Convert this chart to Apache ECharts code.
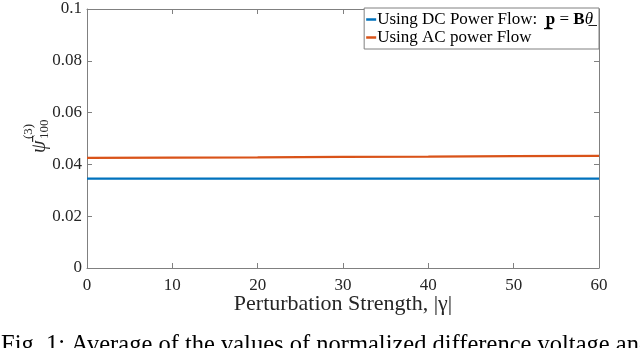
<!DOCTYPE html>
<html>
<head>
<meta charset="utf-8">
<script src="https://cdn.jsdelivr.net/npm/echarts@6/dist/echarts.min.js"></script>
<style>
html,body{margin:0;padding:0;background:#fff;}
#chart{width:640px;height:348px;}
</style>
</head>
<body>
<div id="chart"></div>
<script>
// ---- data ----
const xValues = [0, 10, 20, 30, 40, 50, 60];
const dcValues = [0.0345, 0.0345, 0.0345, 0.0345, 0.0345, 0.0345, 0.0345];
const acValues = [0.0425, 0.0426, 0.0427, 0.0429, 0.0430, 0.0432, 0.0433];
const seriesNames = ['Using DC Power Flow', 'Using AC power Flow'];
const xTicks = [0, 10, 20, 30, 40, 50, 60];
const yTicks = [0, 0.02, 0.04, 0.06, 0.08, 0.1];
const xTitle = 'Perturbation Strength, |\u03B3|';
const caption = 'Fig. 1: Average of the values of normalized difference voltage and';

const FONT = 'Liberation Serif';
const AXC = '#808080';
const TXT = '#262626';

const chart = echarts.init(document.getElementById('chart'), null, {renderer: 'canvas'});

function pair(arr) { return xValues.map((x, i) => [x, arr[i]]); }

function axisCommon() {
  return {
    axisLine: {show: true, onZero: false, lineStyle: {color: AXC, width: 1}},
    axisTick: {show: true, inside: true, length: 5, lineStyle: {color: AXC}},
    splitLine: {show: false}
  };
}

const option = {
  animation: false,
  backgroundColor: '#fff',
  grid: {left: 87, right: 41, top: 9, bottom: 80, containLabel: false},
  xAxis: [
    Object.assign({
      type: 'value', min: 0, max: 60, interval: 10, position: 'bottom',
      axisLabel: {fontFamily: FONT, fontSize: 17, color: TXT, margin: 9,
        formatter: v => xTicks.includes(v) ? String(v) : ''},
      name: xTitle, nameLocation: 'middle', nameGap: 25, nameMoveOverlap: false,
      nameTextStyle: {fontFamily: FONT, fontSize: 22, color: TXT}
    }, axisCommon()),
    Object.assign({
      type: 'value', min: 0, max: 60, interval: 10, position: 'top',
      axisLabel: {show: false}
    }, axisCommon())
  ],
  yAxis: [
    Object.assign({
      type: 'value', min: 0, max: 0.1, interval: 0.02, position: 'left',
      axisLabel: {fontFamily: FONT, fontSize: 17, color: TXT, margin: 5,
        formatter: v => {
          const t = yTicks.find(y => Math.abs(y - v) < 1e-9);
          return t === undefined ? '' : String(+t.toFixed(2));
        }}
    }, axisCommon()),
    Object.assign({
      type: 'value', min: 0, max: 0.1, interval: 0.02, position: 'right',
      axisLabel: {show: false}
    }, axisCommon())
  ],
  legend: {
    orient: 'vertical', right: 41, top: 8,
    data: seriesNames,
    backgroundColor: '#fff',
    borderColor: AXC, borderWidth: 1, borderRadius: 0,
    padding: [3, 6, 3, 2],
    itemGap: 1, itemWidth: 10, itemHeight: 2.5,
    icon: 'rect',
    formatter: name => name === seriesNames[0]
      ? name + ':  {b|p\u0332} = {b|B}{i|\u03B8\u0332}'
      : name,
    textStyle: {
      fontFamily: FONT, fontSize: 17, color: '#000', padding: [0, 0, 0, -4],
      rich: {
        b: {fontFamily: FONT, fontSize: 17, fontWeight: 'bold', color: '#000'},
        i: {fontFamily: FONT, fontSize: 17, fontStyle: 'italic', color: '#000'}
      }
    }
  },
  series: [
    {name: seriesNames[0], type: 'line', data: pair(dcValues), showSymbol: false,
     lineStyle: {color: '#0072BD', width: 2.2}, itemStyle: {color: '#0072BD'}},
    {name: seriesNames[1], type: 'line', data: pair(acValues), showSymbol: false,
     lineStyle: {color: '#D95319', width: 2.2}, itemStyle: {color: '#D95319'}}
  ],
  graphic: [
    {
      type: 'group', x: 50, y: 153, rotation: Math.PI / 2,
      children: [
        {type: 'text', x: 0, y: 0, style: {text: '\u03C8\u0304', font: 'italic 20px "Liberation Serif"', fill: TXT, textVerticalAlign: 'bottom'}},
        {type: 'text', x: 14, y: -15, style: {text: '(3)', font: '13px "Liberation Serif"', fill: TXT, textVerticalAlign: 'bottom'}},
        {type: 'text', x: 14, y: 1, style: {text: '100', font: '13px "Liberation Serif"', fill: TXT, textVerticalAlign: 'bottom'}}
      ]
    },
    {type: 'text', left: 1, top: 333, style: {text: caption, font: '24.5px "Liberation Serif"', fill: '#000'}}
  ]
};
chart.setOption(option);
</script>
</body>
</html>
